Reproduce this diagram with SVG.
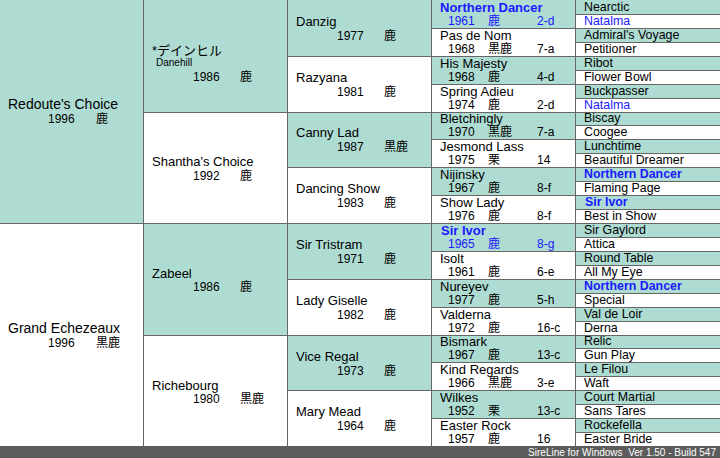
<svg xmlns="http://www.w3.org/2000/svg" width="720" height="458" viewBox="0 0 720 458">
<style>
text{font-family:"Liberation Sans","Noto Sans CJK JP",sans-serif;fill:#000}
.m{fill:#aedcd2}
.f{fill:#fff}
.n1{font-size:14px}
.n{font-size:13px}
.y{font-size:12px}
.s{font-size:10px}
.n5{font-size:12.4px}
.b{font-weight:bold}
.bl{fill:#1a1aff}
.g line{stroke:#666;stroke-width:1}
.bar{fill:#5c5c5c}
.bt{font-size:10px;fill:#fff}
</style>
<g id="col1">
<g id="redoutes-choice"><rect class="m" x="0" y="0" width="143" height="223"/><text class="n1" x="8" y="109">Redoute's Choice</text><text class="y" x="48" y="123">1996</text><text class="y" x="96" y="123">鹿</text></g>
<g id="grand-echezeaux"><rect class="f" x="0" y="223" width="143" height="223"/><text class="n1" x="8" y="333">Grand Echezeaux</text><text class="y" x="48" y="347">1996</text><text class="y" x="96" y="347">黒鹿</text></g>
</g>
<g id="col2">
<g id="danehill"><rect class="m" x="143" y="0" width="144" height="112"/><text class="n" x="152" y="55">*デインヒル</text><text class="s" x="156" y="66">Danehill</text><text class="y" x="193" y="81">1986</text><text class="y" x="240" y="81">鹿</text></g>
<g id="shanthas-choice"><rect class="f" x="143" y="112" width="144" height="111"/><text class="n" x="152" y="166">Shantha's Choice</text><text class="y" x="193" y="180">1992</text><text class="y" x="240" y="180">鹿</text></g>
<g id="zabeel"><rect class="m" x="143" y="223" width="144" height="112"/><text class="n" x="152" y="278">Zabeel</text><text class="y" x="193" y="291">1986</text><text class="y" x="240" y="291">鹿</text></g>
<g id="richebourg"><rect class="f" x="143" y="335" width="144" height="111"/><text class="n" x="152" y="390">Richebourg</text><text class="y" x="193" y="403">1980</text><text class="y" x="240" y="403">黒鹿</text></g>
</g>
<g id="col3">
<g id="danzig"><rect class="m" x="287" y="0" width="144" height="56"/><text class="n" x="296" y="26">Danzig</text><text class="y" x="337" y="40">1977</text><text class="y" x="384" y="40">鹿</text></g>
<g id="razyana"><rect class="f" x="287" y="56" width="144" height="56"/><text class="n" x="296" y="82">Razyana</text><text class="y" x="337" y="96">1981</text><text class="y" x="384" y="96">鹿</text></g>
<g id="canny-lad"><rect class="m" x="287" y="112" width="144" height="55"/><text class="n" x="296" y="137">Canny Lad</text><text class="y" x="337" y="151">1987</text><text class="y" x="384" y="151">黒鹿</text></g>
<g id="dancing-show"><rect class="f" x="287" y="167" width="144" height="56"/><text class="n" x="296" y="193">Dancing Show</text><text class="y" x="337" y="207">1983</text><text class="y" x="384" y="207">鹿</text></g>
<g id="sir-tristram"><rect class="m" x="287" y="223" width="144" height="56"/><text class="n" x="296" y="249">Sir Tristram</text><text class="y" x="337" y="263">1971</text><text class="y" x="384" y="263">鹿</text></g>
<g id="lady-giselle"><rect class="f" x="287" y="279" width="144" height="56"/><text class="n" x="296" y="305">Lady Giselle</text><text class="y" x="337" y="319">1982</text><text class="y" x="384" y="319">鹿</text></g>
<g id="vice-regal"><rect class="m" x="287" y="335" width="144" height="55"/><text class="n" x="296" y="361">Vice Regal</text><text class="y" x="337" y="375">1973</text><text class="y" x="384" y="375">鹿</text></g>
<g id="mary-mead"><rect class="f" x="287" y="390" width="144" height="56"/><text class="n" x="296" y="416">Mary Mead</text><text class="y" x="337" y="430">1964</text><text class="y" x="384" y="430">鹿</text></g>
</g>
<g id="col4">
<g id="northern-dancer"><rect class="m" x="431" y="0" width="144" height="28"/><text class="n b bl" x="440" y="12">Northern Dancer</text><text class="y bl" x="448" y="25">1961</text><text class="y bl" x="488" y="25">鹿</text><text class="y bl" x="537" y="25">2-d</text></g>
<g id="pas-de-nom"><rect class="f" x="431" y="28" width="144" height="28"/><text class="n" x="440" y="40">Pas de Nom</text><text class="y" x="448" y="53">1968</text><text class="y" x="488" y="53">黒鹿</text><text class="y" x="537" y="53">7-a</text></g>
<g id="his-majesty"><rect class="m" x="431" y="56" width="144" height="28"/><text class="n" x="440" y="68">His Majesty</text><text class="y" x="448" y="81">1968</text><text class="y" x="488" y="81">鹿</text><text class="y" x="537" y="81">4-d</text></g>
<g id="spring-adieu"><rect class="f" x="431" y="84" width="144" height="28"/><text class="n" x="440" y="96">Spring Adieu</text><text class="y" x="448" y="109">1974</text><text class="y" x="488" y="109">鹿</text><text class="y" x="537" y="109">2-d</text></g>
<g id="bletchingly"><rect class="m" x="431" y="112" width="144" height="27"/><text class="n" x="440" y="123">Bletchingly</text><text class="y" x="448" y="136">1970</text><text class="y" x="488" y="136">黒鹿</text><text class="y" x="537" y="136">7-a</text></g>
<g id="jesmond-lass"><rect class="f" x="431" y="139" width="144" height="28"/><text class="n" x="440" y="151">Jesmond Lass</text><text class="y" x="448" y="164">1975</text><text class="y" x="488" y="164">栗</text><text class="y" x="537" y="164">14</text></g>
<g id="nijinsky"><rect class="m" x="431" y="167" width="144" height="28"/><text class="n" x="440" y="179">Nijinsky</text><text class="y" x="448" y="192">1967</text><text class="y" x="488" y="192">鹿</text><text class="y" x="537" y="192">8-f</text></g>
<g id="show-lady"><rect class="f" x="431" y="195" width="144" height="28"/><text class="n" x="440" y="207">Show Lady</text><text class="y" x="448" y="220">1976</text><text class="y" x="488" y="220">鹿</text><text class="y" x="537" y="220">8-f</text></g>
<g id="sir-ivor"><rect class="m" x="431" y="223" width="144" height="28"/><text class="n b bl" x="441" y="235">Sir Ivor</text><text class="y bl" x="448" y="248">1965</text><text class="y bl" x="488" y="248">鹿</text><text class="y bl" x="537" y="248">8-g</text></g>
<g id="isolt"><rect class="f" x="431" y="251" width="144" height="28"/><text class="n" x="440" y="263">Isolt</text><text class="y" x="448" y="276">1961</text><text class="y" x="488" y="276">鹿</text><text class="y" x="537" y="276">6-e</text></g>
<g id="nureyev"><rect class="m" x="431" y="279" width="144" height="28"/><text class="n" x="440" y="291">Nureyev</text><text class="y" x="448" y="304">1977</text><text class="y" x="488" y="304">鹿</text><text class="y" x="537" y="304">5-h</text></g>
<g id="valderna"><rect class="f" x="431" y="307" width="144" height="28"/><text class="n" x="440" y="319">Valderna</text><text class="y" x="448" y="332">1972</text><text class="y" x="488" y="332">鹿</text><text class="y" x="537" y="332">16-c</text></g>
<g id="bismark"><rect class="m" x="431" y="335" width="144" height="27"/><text class="n" x="440" y="346">Bismark</text><text class="y" x="448" y="359">1967</text><text class="y" x="488" y="359">鹿</text><text class="y" x="537" y="359">13-c</text></g>
<g id="kind-regards"><rect class="f" x="431" y="362" width="144" height="28"/><text class="n" x="440" y="374">Kind Regards</text><text class="y" x="448" y="387">1966</text><text class="y" x="488" y="387">黒鹿</text><text class="y" x="537" y="387">3-e</text></g>
<g id="wilkes"><rect class="m" x="431" y="390" width="144" height="28"/><text class="n" x="440" y="402">Wilkes</text><text class="y" x="448" y="415">1952</text><text class="y" x="488" y="415">栗</text><text class="y" x="537" y="415">13-c</text></g>
<g id="easter-rock"><rect class="f" x="431" y="418" width="144" height="28"/><text class="n" x="440" y="430">Easter Rock</text><text class="y" x="448" y="443">1957</text><text class="y" x="488" y="443">鹿</text><text class="y" x="537" y="443">16</text></g>
</g>
<g id="col5">
<g id="nearctic"><rect class="m" x="575" y="0" width="145" height="14"/><text class="n5" x="584" y="11">Nearctic</text></g>
<g id="natalma-1"><rect class="f" x="575" y="14" width="145" height="14"/><text class="n5 bl" x="584" y="25">Natalma</text></g>
<g id="admirals-voyage"><rect class="m" x="575" y="28" width="145" height="14"/><text class="n5" x="584" y="39">Admiral's Voyage</text></g>
<g id="petitioner"><rect class="f" x="575" y="42" width="145" height="14"/><text class="n5" x="584" y="53">Petitioner</text></g>
<g id="ribot"><rect class="m" x="575" y="56" width="145" height="14"/><text class="n5" x="584" y="67">Ribot</text></g>
<g id="flower-bowl"><rect class="f" x="575" y="70" width="145" height="14"/><text class="n5" x="584" y="81">Flower Bowl</text></g>
<g id="buckpasser"><rect class="m" x="575" y="84" width="145" height="14"/><text class="n5" x="584" y="95">Buckpasser</text></g>
<g id="natalma-2"><rect class="f" x="575" y="98" width="145" height="14"/><text class="n5 bl" x="584" y="109">Natalma</text></g>
<g id="biscay"><rect class="m" x="575" y="112" width="145" height="13"/><text class="n5" x="584" y="122">Biscay</text></g>
<g id="coogee"><rect class="f" x="575" y="125" width="145" height="14"/><text class="n5" x="584" y="136">Coogee</text></g>
<g id="lunchtime"><rect class="m" x="575" y="139" width="145" height="14"/><text class="n5" x="584" y="150">Lunchtime</text></g>
<g id="beautiful-dreamer"><rect class="f" x="575" y="153" width="145" height="14"/><text class="n5" x="584" y="164">Beautiful Dreamer</text></g>
<g id="northern-dancer-2"><rect class="m" x="575" y="167" width="145" height="14"/><text class="n5 b bl" x="584" y="178">Northern Dancer</text></g>
<g id="flaming-page"><rect class="f" x="575" y="181" width="145" height="14"/><text class="n5" x="584" y="192">Flaming Page</text></g>
<g id="sir-ivor-2"><rect class="m" x="575" y="195" width="145" height="14"/><text class="n5 b bl" x="585" y="206">Sir Ivor</text></g>
<g id="best-in-show"><rect class="f" x="575" y="209" width="145" height="14"/><text class="n5" x="584" y="220">Best in Show</text></g>
<g id="sir-gaylord"><rect class="m" x="575" y="223" width="145" height="14"/><text class="n5" x="584" y="234">Sir Gaylord</text></g>
<g id="attica"><rect class="f" x="575" y="237" width="145" height="14"/><text class="n5" x="584" y="248">Attica</text></g>
<g id="round-table"><rect class="m" x="575" y="251" width="145" height="14"/><text class="n5" x="584" y="262">Round Table</text></g>
<g id="all-my-eye"><rect class="f" x="575" y="265" width="145" height="14"/><text class="n5" x="584" y="276">All My Eye</text></g>
<g id="northern-dancer-3"><rect class="m" x="575" y="279" width="145" height="14"/><text class="n5 b bl" x="584" y="290">Northern Dancer</text></g>
<g id="special"><rect class="f" x="575" y="293" width="145" height="14"/><text class="n5" x="584" y="304">Special</text></g>
<g id="val-de-loir"><rect class="m" x="575" y="307" width="145" height="14"/><text class="n5" x="584" y="318">Val de Loir</text></g>
<g id="derna"><rect class="f" x="575" y="321" width="145" height="14"/><text class="n5" x="584" y="332">Derna</text></g>
<g id="relic"><rect class="m" x="575" y="335" width="145" height="13"/><text class="n5" x="584" y="345">Relic</text></g>
<g id="gun-play"><rect class="f" x="575" y="348" width="145" height="14"/><text class="n5" x="584" y="359">Gun Play</text></g>
<g id="le-filou"><rect class="m" x="575" y="362" width="145" height="14"/><text class="n5" x="584" y="373">Le Filou</text></g>
<g id="waft"><rect class="f" x="575" y="376" width="145" height="14"/><text class="n5" x="584" y="387">Waft</text></g>
<g id="court-martial"><rect class="m" x="575" y="390" width="145" height="14"/><text class="n5" x="584" y="401">Court Martial</text></g>
<g id="sans-tares"><rect class="f" x="575" y="404" width="145" height="14"/><text class="n5" x="584" y="415">Sans Tares</text></g>
<g id="rockefella"><rect class="m" x="575" y="418" width="145" height="14"/><text class="n5" x="584" y="429">Rockefella</text></g>
<g id="easter-bride"><rect class="f" x="575" y="432" width="145" height="14"/><text class="n5" x="584" y="443">Easter Bride</text></g>
</g>
<g id="connectors" class="g">
<line x1="0" y1="223.5" x2="720" y2="223.5"/>
<line x1="143" y1="112.5" x2="720" y2="112.5"/>
<line x1="143" y1="335.5" x2="720" y2="335.5"/>
<line x1="287" y1="56.5" x2="720" y2="56.5"/>
<line x1="287" y1="167.5" x2="720" y2="167.5"/>
<line x1="287" y1="279.5" x2="720" y2="279.5"/>
<line x1="287" y1="390.5" x2="720" y2="390.5"/>
<line x1="431" y1="28.5" x2="720" y2="28.5"/>
<line x1="431" y1="84.5" x2="720" y2="84.5"/>
<line x1="431" y1="139.5" x2="720" y2="139.5"/>
<line x1="431" y1="195.5" x2="720" y2="195.5"/>
<line x1="431" y1="251.5" x2="720" y2="251.5"/>
<line x1="431" y1="307.5" x2="720" y2="307.5"/>
<line x1="431" y1="362.5" x2="720" y2="362.5"/>
<line x1="431" y1="418.5" x2="720" y2="418.5"/>
<line x1="575" y1="14.5" x2="720" y2="14.5"/>
<line x1="575" y1="42.5" x2="720" y2="42.5"/>
<line x1="575" y1="70.5" x2="720" y2="70.5"/>
<line x1="575" y1="98.5" x2="720" y2="98.5"/>
<line x1="575" y1="125.5" x2="720" y2="125.5"/>
<line x1="575" y1="153.5" x2="720" y2="153.5"/>
<line x1="575" y1="181.5" x2="720" y2="181.5"/>
<line x1="575" y1="209.5" x2="720" y2="209.5"/>
<line x1="575" y1="237.5" x2="720" y2="237.5"/>
<line x1="575" y1="265.5" x2="720" y2="265.5"/>
<line x1="575" y1="293.5" x2="720" y2="293.5"/>
<line x1="575" y1="321.5" x2="720" y2="321.5"/>
<line x1="575" y1="348.5" x2="720" y2="348.5"/>
<line x1="575" y1="376.5" x2="720" y2="376.5"/>
<line x1="575" y1="404.5" x2="720" y2="404.5"/>
<line x1="575" y1="432.5" x2="720" y2="432.5"/>
<line x1="143.5" y1="0" x2="143.5" y2="446"/>
<line x1="287.5" y1="0" x2="287.5" y2="446"/>
<line x1="431.5" y1="0" x2="431.5" y2="446"/>
<line x1="575.5" y1="0" x2="575.5" y2="446"/>
</g>
<g id="statusbar"><rect class="bar" x="0" y="446" width="720" height="12"/><text class="bt" x="716" y="456" text-anchor="end" xml:space="preserve">SireLine for Windows  Ver 1.50 - Build 547</text></g>
</svg>
